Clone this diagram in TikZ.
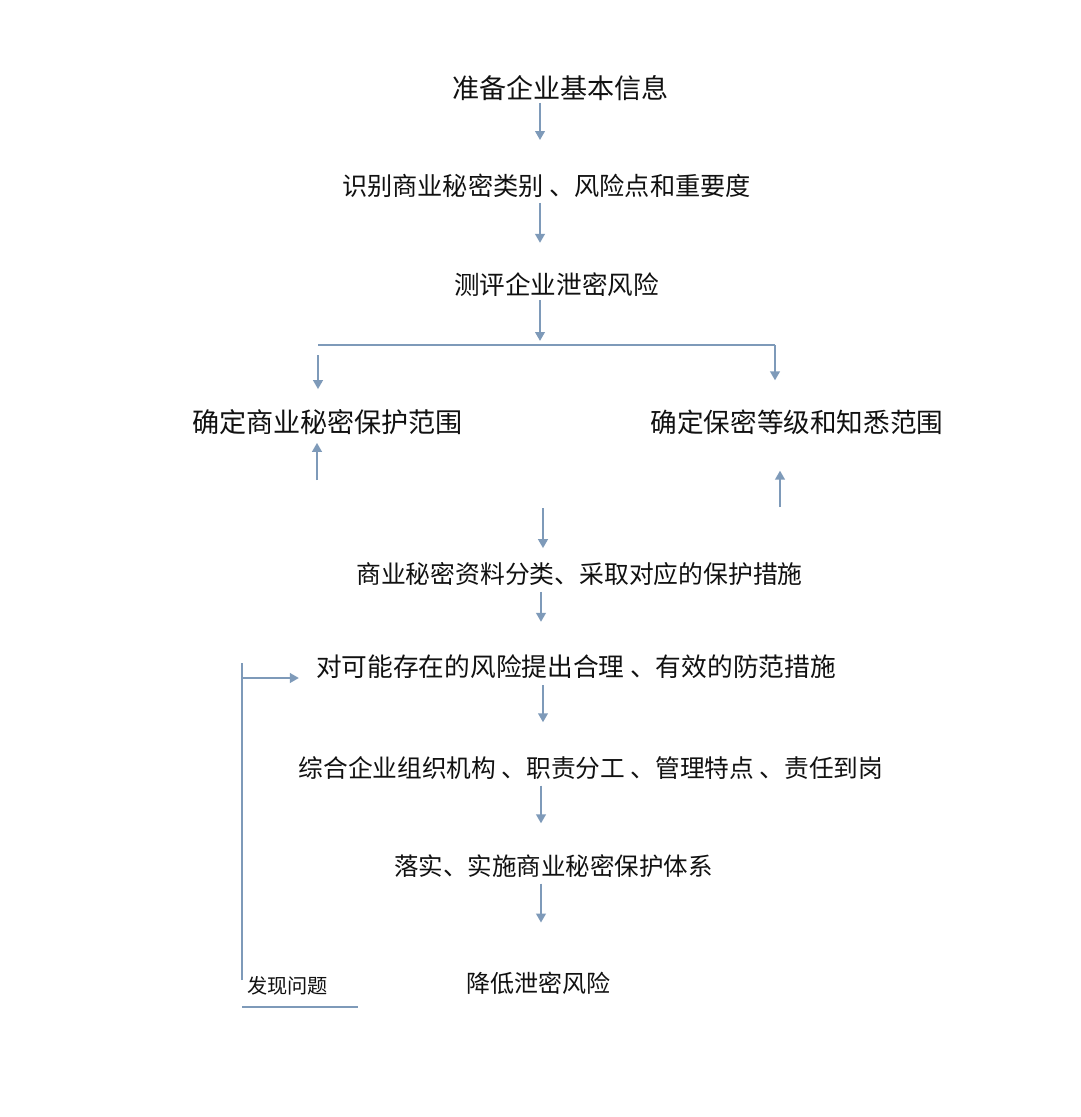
\documentclass[tikz,border=0pt]{standalone}
\usepackage{fontspec}
\newfontfamily\cjk{Noto Sans CJK SC}
\usepackage{tikz}
\usetikzlibrary{
  arrows.meta,
  positioning,
}
\definecolor{flowArrow}{HTML}{7E9AB9}
\definecolor{flowText}{HTML}{111111}
\tikzset{
  stepText/.style={
    inner sep=0pt, text=flowText, anchor=center,
    font=\cjk\fontsize{#1}{#1}\selectfont,
  },
  stepText/.default=25,
  arrowFlow/.style={
    -{Triangle[length=9pt,width=9.5pt]}, line width=2.9pt, draw=flowArrow,
  },
  lineFlow/.style={
    line width=2.9pt, draw=flowArrow,
  },
}

\begin{document}
\begin{tikzpicture}[x=1pt, y=-1pt]

\path[fill=white, use as bounding box] (0,0) rectangle (1080,1117);

\node[stepText=27.1] (prepInfo)     at (560.5,88)  {准备企业基本信息};
\node[stepText=25.2] (identifyCat)  at (546.5,186) {识别商业秘密类别 、风险点和重要度};
\node[stepText=25.6] (assessRisk)   at (556.5,285) {测评企业泄密风险};
\node[stepText=27.1] (protScope)    at (327.5,422) {确定商业秘密保护范围};
\node[stepText=26.6] (secretLevel)  at (797,422)   {确定保密等级和知悉范围};
\node[stepText=24.8] (classifyDocs) at (579.5,574) {商业秘密资料分类、采取对应的保护措施};
\node[stepText=25.7] (preventRisk)  at (576,667)   {对可能存在的风险提出合理 、有效的防范措施};
\node[stepText=24.7] (orgDuty)      at (591,768)   {综合企业组织机构 、职责分工 、管理特点 、责任到岗};
\node[stepText=24.5] (implSystem)   at (553.5,866) {落实、实施商业秘密保护体系};
\node[stepText=24]   (reduceRisk)   at (538,983)   {降低泄密风险};
\node[stepText=20.2] (foundIssue)   at (287.5,986) {发现问题};

% free ends of the connectors
\coordinate (spine)   at (541,0);
\coordinate (split)   at (540,345);
\coordinate (branchL) at (318,345);
\coordinate (branchR) at (775,345);
\coordinate (upL)     at (317,480);
\coordinate (upR)     at (780,507);
\coordinate (inCls)   at (543,508);
\coordinate (loopTop) at (242,663);
\coordinate (loopJoin) at (242,678);
\coordinate (loopBot) at (242,980);
\coordinate (underL)  at (242,1007);
\coordinate (underR)  at (358,1007);

\draw[arrowFlow, shorten <=2pt, shorten >=34pt]
  (prepInfo.south -| split) -- (identifyCat.north -| split);
\draw[arrowFlow, shorten <=5pt, shorten >=30pt]
  (identifyCat.south -| split) -- (assessRisk.north -| split);
\draw[arrowFlow, shorten <=3pt, shorten >=4pt]
  (assessRisk.south -| split) -- (split);

\draw[lineFlow] (branchL) -- (branchR);
\draw[arrowFlow, shorten >=29pt] (branchR) -- (secretLevel.north -| branchR);
\draw[arrowFlow, shorten <=10pt, shorten >=20pt]
  (branchL) -- (protScope.north -| branchL);

\draw[arrowFlow, shorten >=8pt] (upL) -- (protScope.south -| upL);
\draw[arrowFlow, shorten >=36pt] (upR) -- (secretLevel.south -| upR);
\draw[arrowFlow, shorten >=14pt] (inCls) -- (classifyDocs.north -| inCls);

\draw[arrowFlow, shorten <=6pt, shorten >=33pt]
  (classifyDocs.south -| spine) -- (preventRisk.north -| spine);
\draw[arrowFlow, shorten <=6pt, shorten >=34pt]
  ([xshift=2pt]preventRisk.south -| spine) -- ([xshift=2pt]orgDuty.north -| spine);
\draw[arrowFlow, shorten <=6pt, shorten >=31pt]
  (orgDuty.south -| spine) -- (implSystem.north -| spine);
\draw[arrowFlow, shorten <=6pt, shorten >=49pt]
  (implSystem.south -| spine) -- (reduceRisk.north -| spine);

% feedback loop
\draw[lineFlow] (loopBot) -- (loopTop);
\draw[arrowFlow, shorten >=17pt] (loopJoin) -- (loopJoin -| preventRisk.west);
\draw[lineFlow, line width=2.2pt] (underL) -- (underR);

\end{tikzpicture}
\end{document}
